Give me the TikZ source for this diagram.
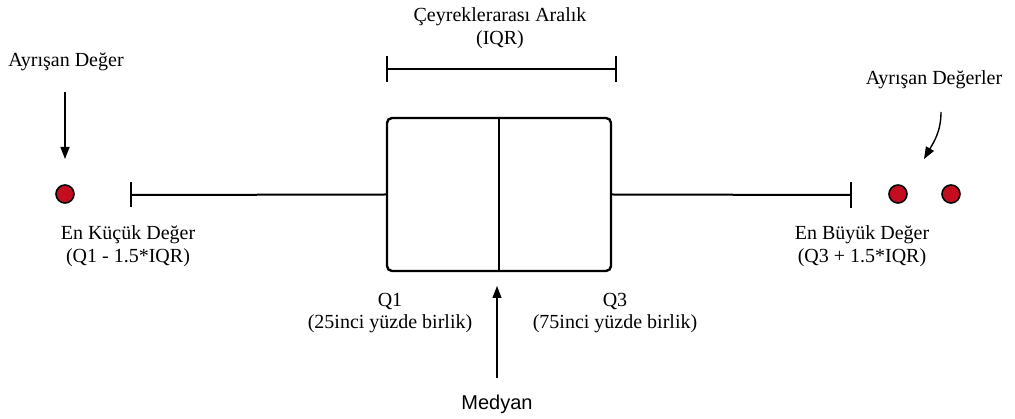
\documentclass[tikz,border=0pt]{standalone}
\usepackage{fontspec}
\setmainfont{Liberation Serif}
\setsansfont{Liberation Sans}
\usetikzlibrary{arrows.meta}
\begin{document}
\begin{tikzpicture}[x=1pt,y=-1pt,
  lbl/.style={font=\fontsize{20}{22.5}\selectfont, align=center, inner sep=0pt},
  ln/.style={line width=2pt},
  arr/.style={line width=1.4pt, -{Triangle[length=12pt,width=9pt]}},
  outlier/.style={circle, draw=black, line width=1.6pt, fill={rgb,255:red,196;green,14;blue,32}, minimum size=18pt, inner sep=0pt}]
\useasboundingbox (0,0) rectangle (1015,419);
% box
\node[draw, line width=2.4pt, rounded corners=5pt, minimum width=224pt, minimum height=153pt, inner sep=0pt] (box) at (499,194.5) {};
\draw[line width=2.4pt] (box.north) -- (box.south);
% whiskers
\coordinate (lt) at (131,195);
\coordinate (rt) at (851,195);
\draw[ln] (lt) -- (box.west);
\draw[ln] ([yshift=-12.5pt]lt) -- ([yshift=12.5pt]lt);
\draw[ln] (box.east) -- (rt);
\draw[ln] ([yshift=-13pt]rt) -- ([yshift=13pt]rt);
% outliers
\node[outlier] (o1) at (65,194) {};
\node[outlier] (o2) at (898,194) {};
\node[outlier] (o3) at (951,194) {};
% IQR bracket
\coordinate (il) at (387,69);
\coordinate (ir) at (616,69);
\draw[ln] (il) -- (ir);
\draw[ln] ([yshift=-13pt]il) -- ([yshift=13pt]il);
\draw[ln] ([yshift=-13pt]ir) -- ([yshift=13pt]ir);
% labels
\node[lbl] (iqr) at (500,28) {Çeyreklerarası Aralık\\(IQR)};
\node[lbl] (ad) at (66,62) {Ayrışan Değer};
\node[lbl] (adr) at (934,80) {Ayrışan Değerler};
\node[lbl] (min) at (128,246) {En Küçük Değer\\(Q1 - 1.5*IQR)};
\node[lbl] (max) at (862,246) {En Büyük Değer\\(Q3 + 1.5*IQR)};
\node[lbl] (q1) at (390,313) {Q1\\(25inci yüzde birlik)};
\node[lbl] (q3) at (615,313) {Q3\\(75inci yüzde birlik)};
\node[font=\sffamily\fontsize{20}{23}\selectfont, inner sep=0pt] (med) at (497,404) {Medyan};
% arrows
\coordinate (a1s) at (65,92);
\coordinate (a1e) at (65,159);
\draw[arr] (a1s) -- (a1e);
\coordinate (a2s) at (941,112);
\coordinate (a2e) at (924,159);
\draw[arr] (a2s) to[out=-90,in=60] (a2e);
\coordinate (ms) at (497,378);
\coordinate (me) at (497,286);
\draw[arr, line width=1.2pt] (ms) -- (me);
\end{tikzpicture}
\end{document}
